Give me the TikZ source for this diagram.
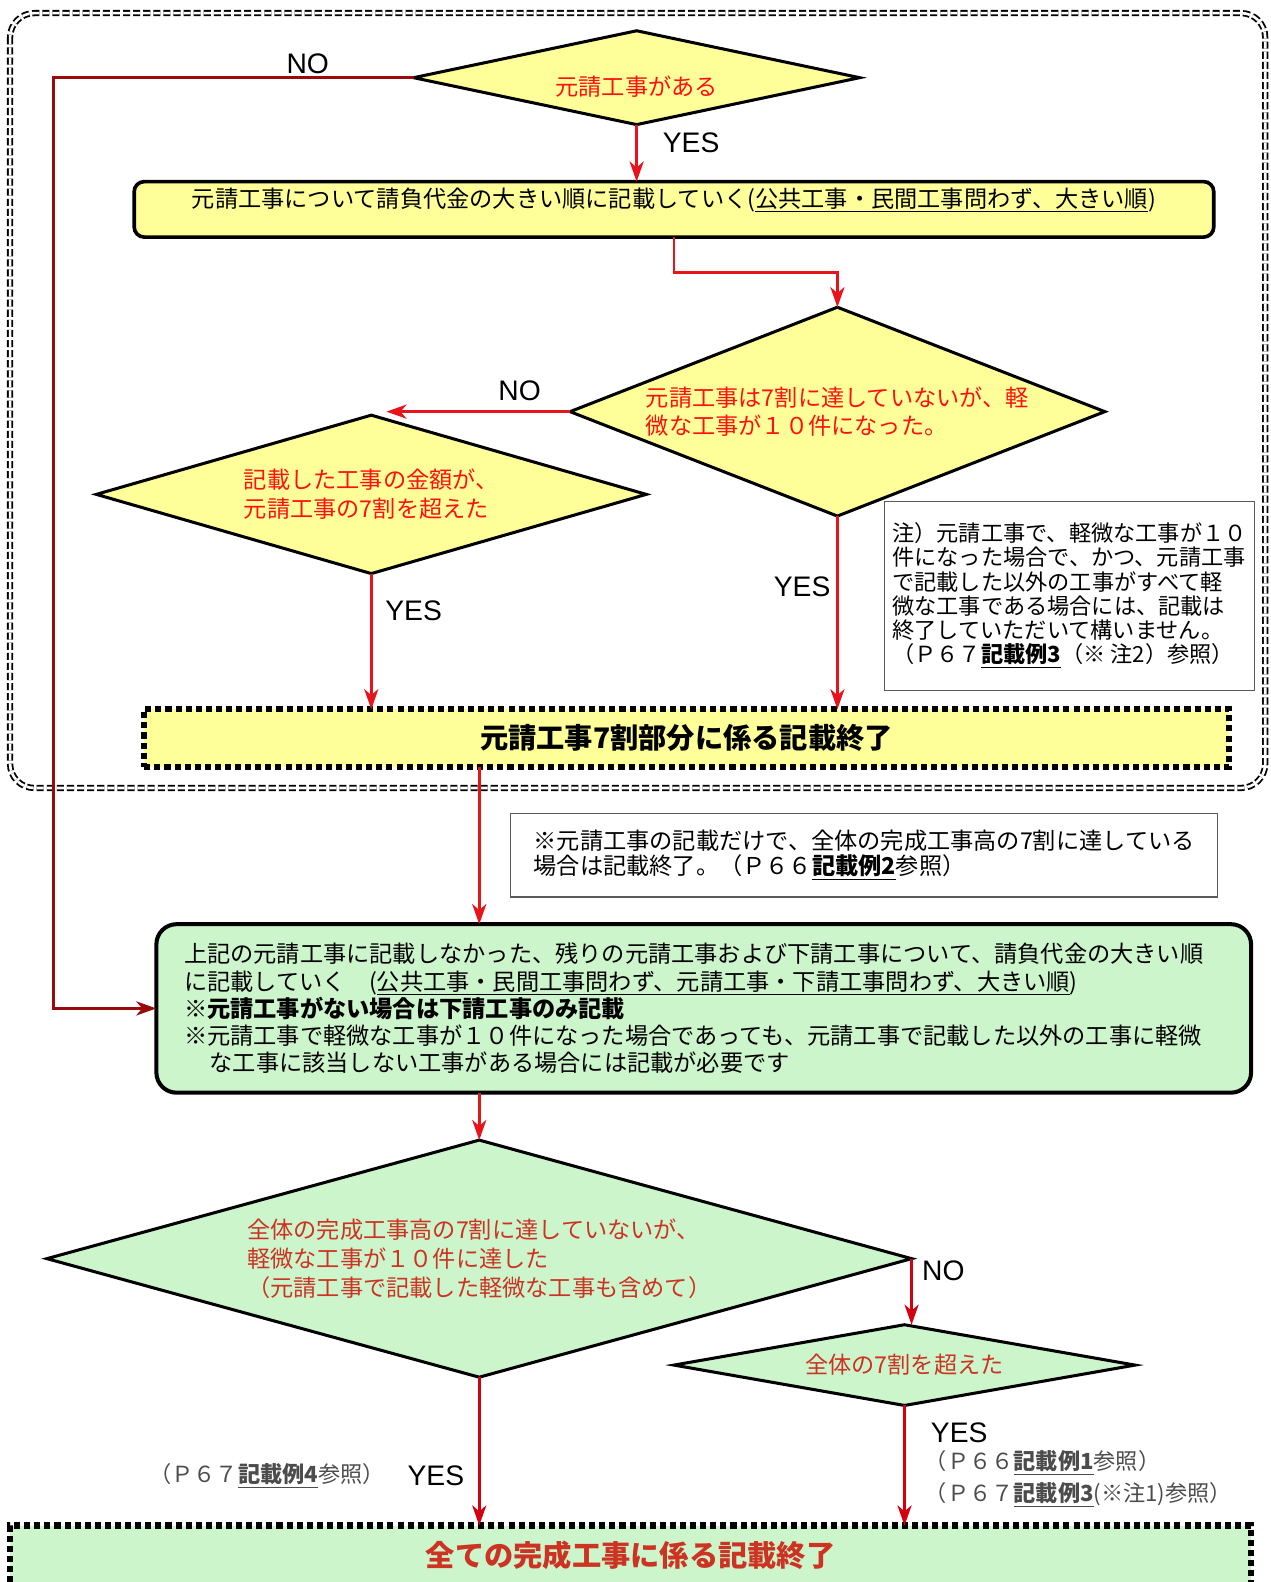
\documentclass[tikz,border=0pt]{standalone}
\usepackage{fontspec}
\setmainfont{Noto Sans CJK JP}
\newfontfamily\latfont{Liberation Sans}
\usetikzlibrary{shapes.geometric,arrows.meta,positioning}
\definecolor{ylw}{HTML}{FFFF99}
\definecolor{grn}{HTML}{CCF5CC}
\definecolor{txtred}{HTML}{FF1111}
\definecolor{grnred}{HTML}{CC3322}
\definecolor{arrred}{HTML}{E8141C}
\definecolor{garrred}{HTML}{D40010}
\definecolor{noline}{HTML}{9A0A0A}

\begin{document}
\begin{tikzpicture}[x=0.5pt,y=-0.5pt,
  every node/.style={font=\fontsize{11.5pt}{13.5pt}\selectfont, outer sep=0pt},
  dia/.style={diamond, draw=black, line width=1.5pt, inner sep=0pt, align=left},
  ydia/.style={dia, fill=ylw, text=txtred},
  gdia/.style={dia, fill=grn, text=grnred},
  note/.style={draw=black!65, line width=0.6pt, fill=white, align=left, inner sep=2pt},
  arr/.style={draw=arrred, line width=1.3pt, -{Stealth[length=10pt,width=7pt,inset=3pt]}},
  garr/.style={arr, draw=garrred},
  lbl/.style={font=\latfont\fontsize{14pt}{16pt}\selectfont},
  ref/.style={anchor=west, text=black!70, font=\fontsize{11pt}{13pt}\selectfont},
  endbox/.style={draw=black, line width=3pt, dash pattern=on 3pt off 2pt,
    font=\bfseries\fontsize{14pt}{16pt}\selectfont}
]
\fill[white] (0,0) rectangle (1259,1568);
\useasboundingbox (0,0) rectangle (1259,1568);

% frame round the first part
\draw[black, double, double distance=1.3pt, line width=0.9pt, dash pattern=on 3.5pt off 1.5pt,
  rounded corners=12pt] (10,13) rectangle (1254,781);

% first part
\node[ydia, aspect=4.75, minimum width=221pt, minimum height=46.5pt, text height=19pt] (d1) at (631,77)
  {元請工事がある};
\node[draw=black, line width=1.8pt, fill=ylw, rounded corners=5pt, minimum width=535pt,
  minimum height=27.5pt, inner ysep=1pt, text depth=12pt] (b1) at (668,207.5)
  {元請工事について請負代金の大きい順に記載していく(\underline{公共工事・民間工事問わず、大きい順})};
\node[ydia, aspect=2.56, minimum width=265pt, minimum height=103.5pt] (d2) at (830,408)
  {元請工事は7割に達していないが、軽\\微な工事が１０件になった。};
\node[ydia, aspect=3.47, minimum width=272.5pt, minimum height=78.5pt,
  font=\fontsize{11.5pt}{14.5pt}\selectfont] (d3) at (368,490)
  {記載した工事の金額が、\\元請工事の7割を超えた};
\node[note, minimum width=183pt, minimum height=93.5pt, font=\fontsize{11pt}{12pt}\selectfont]
  (n1) at (1060,590.5)
  {注）元請工事で、軽微な工事が１０\\件になった場合で、かつ、元請工事\\で記載した以外の工事がすべて軽\\%
   微な工事である場合には、記載は\\終了していただいて構いません。\\%
   （Ｐ６７\underline{\textbf{記載例3}}（※ 注2）参照）};
\node[endbox, fill=ylw, minimum width=537.5pt, minimum height=28.5pt] (e1) at (680.5,731.5)
  {元請工事7割部分に係る記載終了};
\coordinate (n3) at (383,408);
\coordinate (noleft) at (53,77);

% second part
\node[note, minimum width=350.5pt, minimum height=41.5pt, font=\fontsize{11.5pt}{12.5pt}\selectfont]
  (n2) at (856.5,847.5)
  {※元請工事の記載だけで、全体の完成工事高の7割に達している\\場合は記載終了。（Ｐ６６\underline{\textbf{記載例2}}参照）};
\node[draw=black, line width=2pt, fill=grn, rounded corners=10pt, minimum width=542.5pt,
  minimum height=83.5pt, text width=515pt, align=left, inner sep=0pt] (g1) at (697.5,999.5)
  {上記の元請工事に記載しなかった、残りの元請工事および下請工事について、請負代金の大きい順\\
   に記載していく　(\underline{公共工事・民間工事問わず、元請工事・下請工事問わず、大きい順})\\
   \textbf{※元請工事がない場合は下請工事のみ記載}\\
   ※元請工事で軽微な工事が１０件になった場合であっても、元請工事で記載した以外の工事に軽微\\
   \hspace*{1.1em}な工事に該当しない工事がある場合には記載が必要です};
\node[gdia, aspect=3.65, minimum width=428.5pt, minimum height=117.5pt,
  font=\fontsize{11.5pt}{14.5pt}\selectfont] (d4) at (475,1247.5)
  {全体の完成工事高の7割に達していないが、\\軽微な工事が１０件に達した\\（元請工事で記載した軽微な工事も含めて）};
\node[gdia, aspect=5.7, minimum width=228.5pt, minimum height=40pt] (d5) at (896.5,1353)
  {全体の7割を超えた};
\node[endbox, fill=grn, text=grnred, minimum width=615pt, minimum height=30pt,
  font=\bfseries\fontsize{14.5pt}{16pt}\selectfont] (e2) at (625,1542)
  {全ての完成工事に係る記載終了};

% connectors
\draw[noline, line width=1.3pt, -{Stealth[length=10pt,width=7pt,inset=3pt]}]
  (d1.west) -- (noleft) |- (g1.west);
\draw[arr] (d1.south) -- (d1.south |- b1.north);
\draw[arr] (b1.south) -- ++(0,35) -| (d2.north);
\draw[arr] (d2.west) -- (n3);
\draw[arr] (d3.south) -- (d3.south |- e1.north);
\draw[arr] (d2.south) -- (d2.south |- e1.north);
\draw[arr] (e1.south -| d4.north) -- (g1.north -| d4.north);
\draw[arr] (g1.south -| d4.north) -- (d4.north);
\draw[garr] (d4.east) -- (d4.east |- d5.north);
\draw[garr] (d4.south) -- (d4.south |- e2.north);
\draw[garr] (d5.south) -- (d5.south |- e2.north);

% labels
\node[lbl] (no1) at (305,63) {NO};
\node[lbl] (yes1) at (685,142) {YES};
\node[lbl] (no2) at (515,387) {NO};
\node[lbl] (yes2) at (795,582) {YES};
\node[lbl] (yes3) at (410,605) {YES};
\node[lbl] (no3) at (935,1260) {NO};
\node[lbl, anchor=west] (yes5) at (916,1420) {YES};
\node[ref] (ref1) at (910,1450) {（Ｐ６６\underline{\textbf{記載例1}}参照）};
\node[ref] (ref2) at (910,1482) {（Ｐ６７\underline{\textbf{記載例3}}(※注1)参照）};
\node[lbl] (yes4) at (432,1463) {YES};
\node[ref, anchor=east] (ref3) at (388,1463) {（Ｐ６７\underline{\textbf{記載例4}}参照）};
\end{tikzpicture}
\end{document}
